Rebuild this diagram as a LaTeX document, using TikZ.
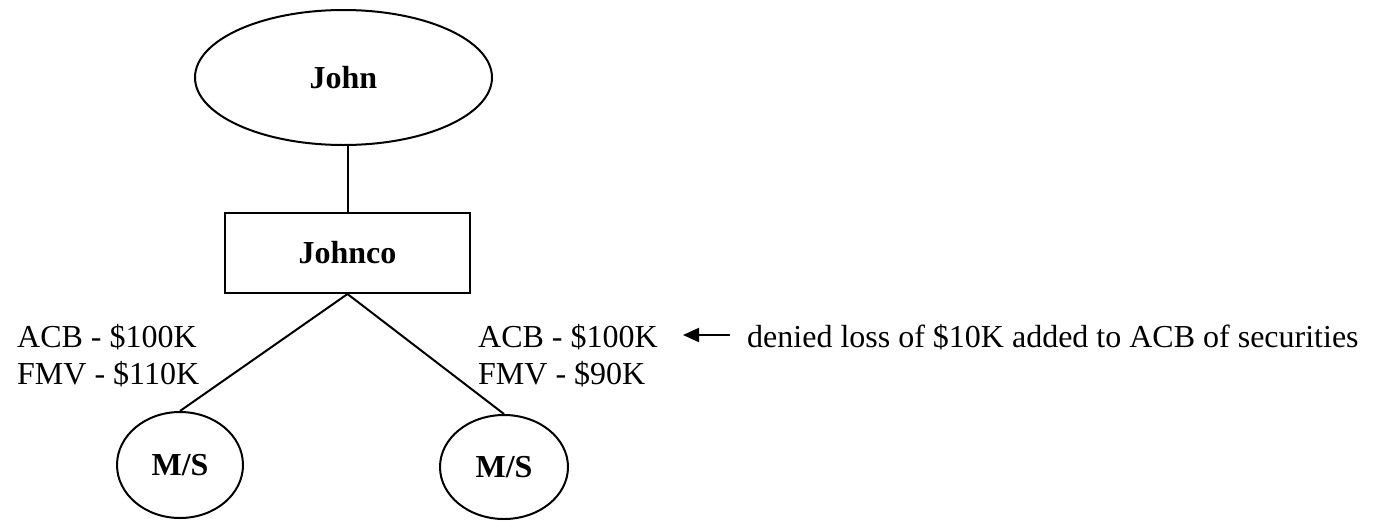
\documentclass[tikz,border=0pt]{standalone}
\usepackage{fontspec}
\setmainfont{Liberation Serif}
\usetikzlibrary{shapes.geometric,arrows.meta}
\begin{document}
\begin{tikzpicture}[x=1pt,y=-1pt,
  every node/.style={font=\fontsize{32}{35}\selectfont},
  conn/.style={line width=2pt},
  entity/.style={draw,line width=2pt,ellipse,inner sep=0pt,font=\fontsize{32}{35}\selectfont\bfseries},
  corp/.style={draw,line width=2pt,rectangle,inner sep=0pt,font=\fontsize{32}{35}\selectfont\bfseries},
  lbl/.style={anchor=base west,inner sep=0pt}]
\useasboundingbox (0,0) rectangle (1376,520);
\node[entity,minimum width=297pt,minimum height=135pt] (john) at (343.5,77.5) {John};
\node[corp,minimum width=245pt,minimum height=80pt] (johnco) at (347.5,253) {Johnco};
\node[entity,minimum width=126pt,minimum height=106pt] (ms1) at (180,465) {M/S};
\node[entity,minimum width=128pt,minimum height=104pt] (ms2) at (504,467) {M/S};
\draw[conn] (johnco.north) -- (johnco.north |- john.south);
\draw[conn] (johnco.south) -- (ms1.north);
\draw[conn] (johnco.south) -- (ms2.north);
\node[lbl] (acb1) at (17,347) {ACB - \$100K};
\node[lbl] (fmv1) at (17,384) {FMV - \$110K};
\node[lbl] (acb2) at (478,347) {ACB - \$100K};
\node[lbl] (fmv2) at (478,384) {FMV - \$90K};
\node[lbl] (note) at (747,347) {denied loss of \$10K added to ACB of securities};
\coordinate (arrfrom) at (730,335);
\coordinate (arrto) at (683,335);
\draw[conn,-{Triangle[length=16pt,width=14pt]}] (arrfrom) -- (arrto);
\end{tikzpicture}
\end{document}
